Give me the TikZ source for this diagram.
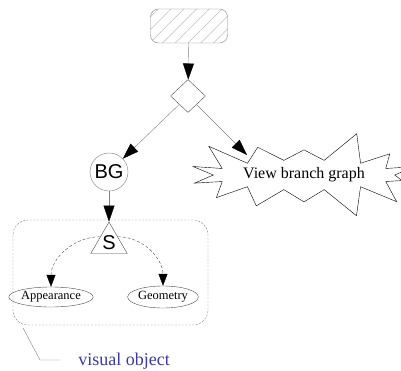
\documentclass[tikz,border=0pt]{standalone}
\usepackage{fontspec}
\setmainfont{Liberation Serif}
\newfontfamily\sanslabel{Liberation Sans}
\usetikzlibrary{arrows.meta, calc, positioning, shapes.geometric, shapes.symbols, patterns.meta}
\definecolor{linegray}{HTML}{7F7F7F}
\definecolor{labelblue}{HTML}{3A3AA8}

\begin{document}
\begin{tikzpicture}[
    x=1pt, y=-1pt,
    arrow/.style={-{Triangle[length=16pt, width=11pt, color=black]}, draw=linegray},
    dasharrow/.style={-{Triangle[length=12pt, width=9pt, color=black]}, draw=black!70, dash pattern=on 3pt off 2pt},
    leaf/.style={draw=black!70, ellipse, inner sep=0pt, font=\fontsize{12.5}{13}\selectfont}
]
\useasboundingbox (0,0) rectangle (401,371);

% Nodes
\node[draw=linegray, rounded corners=8pt, minimum width=77pt, minimum height=34pt,
      pattern={Lines[angle=45, distance=9pt, line width=0.5pt]}, pattern color=black!25] (root) at (189,26) {};
\node[diamond, draw=black!70, inner sep=0pt, minimum width=35pt, minimum height=33pt] (split) at (188,96) {};
\node[circle, draw=linegray, inner sep=0pt, minimum size=38pt, font=\sanslabel\fontsize{20}{20}\selectfont] (bg) at (109,172) {BG};
\node[starburst, draw=black, fill=white, starburst points=14, starburst point height=32pt,
      random starburst=3, minimum width=220pt, minimum height=90pt,
      font=\fontsize{16}{17}\selectfont] (view) at (304,175) {View branch graph};
\coordinate (hit) at (247,155);

\node[draw=linegray, dash pattern=on 2pt off 1.5pt, rounded corners=15pt,
      minimum width=195pt, minimum height=105pt] (vobj) at (110.5,272.5) {};
\node[regular polygon, regular polygon sides=3, draw=black!70, inner sep=0pt, minimum size=42pt,
      font=\sanslabel\fontsize{20}{20}\selectfont] (sw) at (109,243) {S};
\node[leaf, minimum width=72pt, minimum height=20pt] (app) at (51,297) {Appearance};
\node[leaf, minimum width=59pt, minimum height=22pt] (geo) at (163,297) {Geometry};

\node[text=labelblue, font=\fontsize{18}{19}\selectfont] (vlabel) at (124,361) {visual object};
\coordinate (c1) at (23,328);
\coordinate (c2) at (40,360);

% Arrows
\draw[arrow] (root) -- (split);
\draw[arrow] (split) -- (bg);
\draw[arrow] (split) -- (hit);
\draw[arrow] (bg) -- (sw.corner 1);
\draw[dasharrow] ($(sw.corner 1)!0.47!(sw.corner 2)$) to[out=180, in=90] (app.north);
\draw[dasharrow] ($(sw.corner 1)!0.47!(sw.corner 3)$) to[out=0, in=90] (geo.north);
\draw[linegray] (c1) -- (c2) -- ++(20,0);

\end{tikzpicture}
\end{document}
